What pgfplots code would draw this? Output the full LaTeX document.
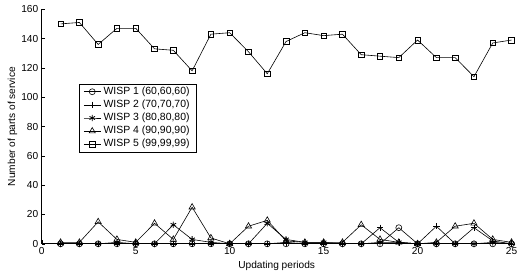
\documentclass[border=0pt]{standalone}
\usepackage{fontspec}
\setmainfont{Liberation Sans}
\usepackage{pgfplots}
\pgfplotsset{compat=1.18}
\begin{document}
\fontsize{10.2}{12}\selectfont
\begin{tikzpicture}
\begin{axis}[
  scale only axis,
  width=472pt, height=235.7pt,
  xmin=0, xmax=25, ymin=0, ymax=160,
  xtick={0,5,10,15,20,25},
  ytick={0,20,40,60,80,100,120,140,160},
  axis x line*=bottom, axis y line*=left,
  axis line style={-, line width=0.7pt},
  tick align=inside,
  major tick length=3.5pt,
  tick style={line width=0.6pt, black},
  /pgf/number format/assume math mode=true,
  ticklabel style={font=\fontsize{10.2}{12}\selectfont},
  xlabel={Updating periods},
  ylabel={Number of parts of service},
  xlabel style={at={(axis description cs:0.5,-0.092)}, anchor=center},
  ylabel style={at={(axis description cs:-0.0625,0.5)}, anchor=center, rotate=0},
  legend style={at={(axis description cs:0.0784,0.683)}, anchor=north west,
    draw=black, line width=0.7pt, fill=white, font=\fontsize{10.5}{12}\selectfont,
    nodes={inner xsep=2.6pt, inner ysep=1.4pt, text height=7.9pt, text depth=2.5pt},
    inner xsep=4.5pt, inner ysep=1.2pt},
  legend cell align=left,
]
\addplot[black, line width=0.6pt, mark=o, mark size=3pt, mark options={solid, line width=0.6pt}] coordinates {
(1,0)(2,0)(3,0)(4,0)(5,0)(6,0)(7,0)(8,0)(9,0)(10,0)(11,0)(12,0)(13,0)
(14,0)(15,0)(16,0)(17,0)(18,0)(19,11)(20,0)(21,0)(22,0)(23,0)(24,0)(25,0)};
\addlegendentry{WISP 1 (60,60,60)}
\addplot[black, line width=0.6pt, mark=+, mark size=3.2pt, mark options={solid, line width=0.6pt}] coordinates {
(1,0)(2,0)(3,0)(4,0)(5,0)(6,0)(7,0)(8,0)(9,0)(10,0)(11,0)(12,0)(13,1)
(14,0)(15,0)(16,0)(17,0)(18,11)(19,1)(20,0)(21,12)(22,0)(23,11)(24,2)(25,0)};
\addlegendentry{WISP 2 (70,70,70)}
\addplot[black, line width=0.6pt, mark=asterisk, mark size=3.2pt, mark options={solid, line width=0.8pt}] coordinates {
(1,0)(2,0)(3,0)(4,1)(5,0)(6,0)(7,13)(8,3)(9,1)(10,0)(11,0)(12,14)(13,3)
(14,1)(15,1)(16,0)(17,0)(18,1)(19,1)(20,0)(21,0)(22,0)(23,0)(24,1)(25,0)};
\addlegendentry{WISP 3 (80,80,80)}
\addplot[black, line width=0.6pt, mark=triangle, mark size=3.6pt, mark options={solid, line width=0.6pt}] coordinates {
(1,1)(2,1)(3,15)(4,3)(5,1)(6,14)(7,3)(8,25)(9,4)(10,0)(11,12)(12,16)(13,2)
(14,1)(15,1)(16,1)(17,13)(18,3)(19,1)(20,0)(21,1)(22,12)(23,14)(24,3)(25,1)};
\addlegendentry{WISP 4 (90,90,90)}
\addplot[black, line width=0.6pt, mark=square, mark size=2.8pt, mark options={solid, line width=0.6pt}] coordinates {
(1,150)(2,151)(3,136)(4,147)(5,147)(6,133)(7,132)(8,118)(9,143)(10,144)(11,131)(12,116)(13,138)
(14,144)(15,142)(16,143)(17,129)(18,128)(19,127)(20,139)(21,127)(22,127)(23,114)(24,137)(25,139)};
\addlegendentry{WISP 5 (99,99,99)}
\end{axis}
\pgfresetboundingbox
\path[use as bounding box] ([xshift=-42pt,yshift=-30pt]current axis.south west) rectangle ([xshift=6.5pt,yshift=9.3pt]current axis.north east);
\end{tikzpicture}
\end{document}
